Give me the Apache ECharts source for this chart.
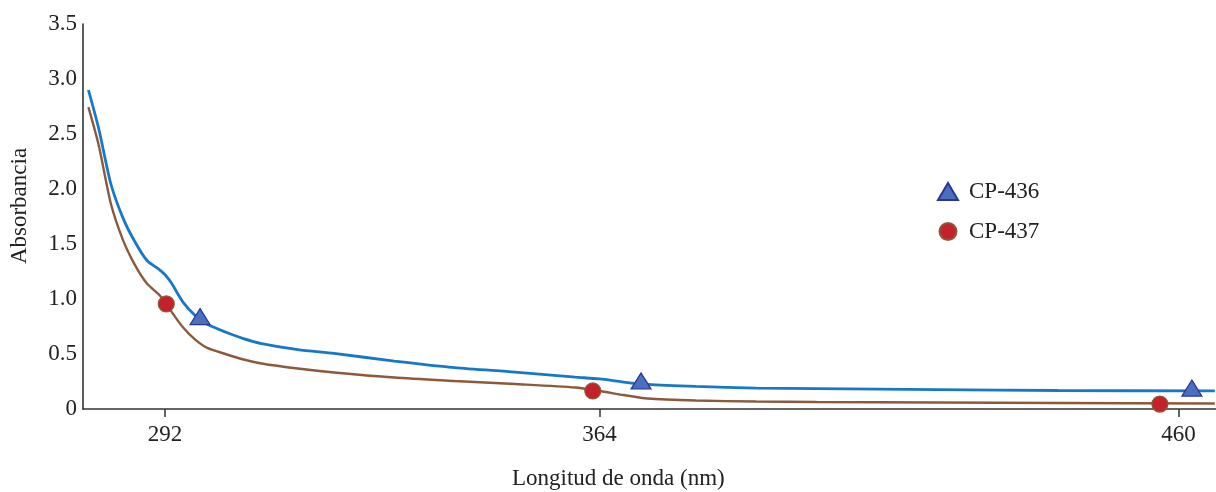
<!DOCTYPE html>
<html>
<head>
<meta charset="utf-8">
<script src="https://cdn.jsdelivr.net/npm/echarts@6/dist/echarts.min.js"></script>
<style>html,body{margin:0;padding:0;background:#fff}#c{width:1216px;height:492px}</style>
</head>
<body>
<div id="c"></div>
<script>
const wavelengths = [279.3,281,283,285,287,289,291,292,293,295,297,299,302,305,308,314,320,330,340,350,360,364,368,372,380,390,400,420,440,466];
const cp436 = [2.90,2.55,2.05,1.74,1.52,1.35,1.27,1.22,1.15,0.97,0.85,0.77,0.70,0.64,0.595,0.54,0.505,0.436,0.377,0.336,0.29,0.273,0.245,0.223,0.205,0.19,0.185,0.177,0.168,0.164];
const cp437 = [2.745,2.40,1.87,1.54,1.31,1.14,1.04,0.97,0.89,0.74,0.63,0.555,0.50,0.45,0.414,0.368,0.332,0.286,0.255,0.227,0.195,0.164,0.127,0.095,0.077,0.068,0.064,0.059,0.055,0.05];
const markers436 = [[297.8,0.84],[370.9,0.255],[462.2,0.19]];
const markers437 = [[292.2,0.955],[362.9,0.164],[456.9,0.045]];
const xTicks = [292,364,460];
const seriesNames = ['CP-436','CP-437'];
const xTitle = 'Longitud de onda (nm)';
const yTitle = 'Absorbancia';

const FONT = '"Liberation Serif", "DejaVu Serif", serif';
const FS = 23;
const chart = echarts.init(document.getElementById('c'));
const pair = (xs, ys) => xs.map((x, i) => [x, ys[i]]);
chart.setOption({
  animation: false,
  textStyle: {fontFamily: FONT},
  grid: {left: 83, right: 0, top: 24, bottom: 83, outerBoundsMode: 'none', containLabel: false},
  legend: {
    orient: 'vertical', left: 932, top: 175, itemGap: 17, itemWidth: 20, itemHeight: 17,
    textStyle: {fontFamily: FONT, fontSize: FS, color: '#222', padding: [0, 0, 0, 6]},
    data: seriesNames
  },
  xAxis: {
    type: 'value', min: 278.4, max: 466.2,
    splitLine: {show: false},
    axisLine: {lineStyle: {color: '#333', width: 1.6}},
    axisTick: {show: true, length: 8, lineStyle: {color: '#333', width: 1.5}, customValues: xTicks},
    axisLabel: {customValues: xTicks, fontFamily: FONT, fontSize: FS, color: '#222', margin: 14}
  },
  yAxis: {
    type: 'value', min: 0, max: 3.5, interval: 0.5,
    splitLine: {show: false},
    axisLine: {show: true, lineStyle: {color: '#333', width: 1.6}},
    axisTick: {show: false},
    axisLabel: {fontFamily: FONT, fontSize: FS, color: '#222', margin: 6,
      formatter: v => v === 0 ? '0' : v.toFixed(1)}
  },
  graphic: [{
    type: 'text', left: 512, top: 467,
    style: {text: xTitle, font: FS + 'px ' + FONT, fill: '#222'}
  }, {
    type: 'text', x: 20, y: 206, rotation: Math.PI / 2,
    style: {text: yTitle, font: FS + 'px ' + FONT, fill: '#222', align: 'center', verticalAlign: 'middle'}
  }],
  series: [
    {name: 'line436', type: 'line', data: pair(wavelengths, cp436), smooth: 0.25, showSymbol: false,
     lineStyle: {color: '#1878c8', width: 2.8}, z: 2},
    {name: 'line437', type: 'line', data: pair(wavelengths, cp437), smooth: 0.25, showSymbol: false,
     lineStyle: {color: '#8c5a3a', width: 2.4}, z: 2},
    {name: 'CP-436', type: 'scatter', data: markers436, symbol: 'triangle', symbolSize: [20, 16],
     itemStyle: {color: '#4a6fc0', borderColor: '#2a3590', borderWidth: 1.2, opacity: 1}, z: 3},
    {name: 'CP-437', type: 'scatter', data: markers437, symbol: 'circle', symbolSize: 16,
     itemStyle: {color: '#c4212a', borderColor: '#8c5a3a', borderWidth: 1.2, opacity: 1}, z: 3}
  ]
});
</script>
</body>
</html>
